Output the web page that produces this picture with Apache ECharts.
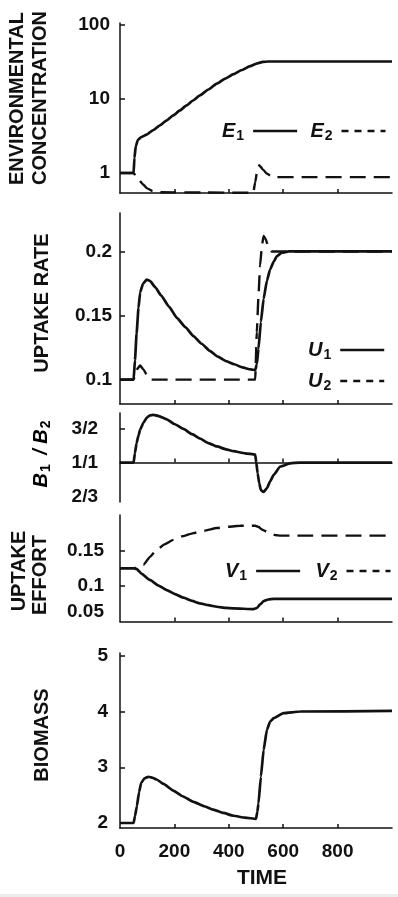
<!DOCTYPE html>
<html>
<head>
<meta charset="utf-8">
<script src="https://cdn.jsdelivr.net/npm/echarts@6/dist/echarts.min.js"></script>
<style>
  html, body { margin: 0; padding: 0; background: #fff; }
  #chart { width: 398px; height: 897px; }
</style>
</head>
<body>
<div id="chart"></div>
<script>
// time axis
const timeTicks = [200, 400, 600, 800]
const timeLabels = [0, 200, 400, 600, 800]

// environmental concentration (log scale)
const envE1 = [[0, 1], [50, 1], [53, 1.6], [58, 2.3], [66, 2.8], [78, 3.05], [98, 3.3], [122, 3.8], [147, 4.4], [170, 5.1], [196, 6.0], [220, 7.0], [245, 8.2], [270, 9.6], [294, 11.2], [325, 13.4], [356, 16.1], [387, 18.8], [417, 21.6], [448, 24.6], [478, 27.7], [505, 30.2], [525, 31.6], [545, 32], [1000, 32]]
const envE2 = [[0, 1], [50, 1], [58, 0.92], [70, 0.8], [85, 0.7], [100, 0.62], [120, 0.57], [150, 0.55], [300, 0.545], [490, 0.54], [497, 0.75], [504, 1.05], [512, 1.27], [525, 1.12], [540, 0.98], [555, 0.92], [575, 0.88], [1000, 0.88]]
const envTicks = [1, 10, 100]

// uptake rate
const uptU1 = [[0, 0.1], [50, 0.1], [55, 0.115], [61, 0.136], [68, 0.156], [74, 0.168], [85, 0.175], [98, 0.178], [110, 0.177], [130, 0.172], [150, 0.166], [180, 0.157], [210, 0.148], [240, 0.141], [270, 0.134], [300, 0.128], [330, 0.1225], [360, 0.118], [390, 0.1145], [420, 0.112], [450, 0.1095], [480, 0.108], [497, 0.1075], [503, 0.112], [509, 0.124], [518, 0.145], [528, 0.163], [540, 0.177], [552, 0.186], [565, 0.192], [577, 0.1964], [595, 0.199], [620, 0.2], [1000, 0.2]]
const uptU2 = [[0, 0.1], [50, 0.1], [62, 0.108], [74, 0.111], [86, 0.108], [98, 0.104], [115, 0.1], [497, 0.1], [503, 0.137], [509, 0.165], [515, 0.189], [522, 0.205], [528, 0.212], [535, 0.21], [545, 0.204], [558, 0.2], [1000, 0.2]]
const uptTicks = [0.1, 0.15, 0.2]

// biomass ratio B1/B2 (log scale)
const ratioB = [[0, 1], [50, 1], [55, 1.12], [61, 1.26], [68, 1.38], [74, 1.476], [86, 1.6], [98, 1.7], [110, 1.75], [123, 1.76], [140, 1.74], [172, 1.67], [200, 1.58], [233, 1.49], [265, 1.4], [294, 1.33], [325, 1.26], [356, 1.21], [390, 1.17], [417, 1.145], [460, 1.115], [497, 1.1], [501, 1.0], [506, 0.88], [512, 0.78], [518, 0.72], [528, 0.705], [540, 0.736], [552, 0.8], [565, 0.863], [589, 0.954], [626, 0.99], [660, 1], [1000, 1]]
const ratioTicks = [2 / 3, 1, 3 / 2]
const ratioNames = ['2/3', '1/1', '3/2']

// uptake effort
const effV1 = [[0, 0.125], [50, 0.125], [61, 0.124], [80, 0.117], [110, 0.1085], [140, 0.101], [172, 0.0943], [200, 0.089], [233, 0.0835], [265, 0.079], [294, 0.0755], [325, 0.073], [356, 0.0708], [390, 0.0692], [417, 0.0684], [491, 0.0675], [503, 0.069], [515, 0.074], [528, 0.0787], [545, 0.081], [565, 0.082], [1000, 0.082]]
const effV2 = [[0, 0.125], [50, 0.125], [70, 0.127], [86, 0.1297], [110, 0.141], [135, 0.151], [165, 0.159], [196, 0.165], [230, 0.17], [270, 0.1745], [310, 0.178], [356, 0.1816], [400, 0.1835], [442, 0.1848], [497, 0.185], [510, 0.183], [520, 0.18], [528, 0.1783], [552, 0.1736], [575, 0.1715], [589, 0.171], [1000, 0.171]]
const effTicks = [0.05, 0.1, 0.15]

// biomass
const biomass = [[0, 2], [50, 2], [55, 2.12], [62, 2.3], [70, 2.55], [78, 2.72], [90, 2.8], [105, 2.83], [120, 2.81], [135, 2.78], [160, 2.7], [196, 2.58], [230, 2.48], [270, 2.38], [310, 2.3], [343, 2.24], [380, 2.18], [417, 2.13], [460, 2.095], [500, 2.075], [505, 2.2], [509, 2.35], [518, 2.83], [528, 3.31], [540, 3.67], [552, 3.82], [565, 3.88], [601, 3.97], [662, 4.0], [1000, 4.01]]
const biomassTicks = [2, 3, 4, 5]

const FONT = '"Liberation Sans", Arial, sans-serif'
const INK = '#111'

const chart = echarts.init(document.getElementById('chart'), null, { renderer: 'canvas' })

const grids = [
  { top: 23, height: 170 },
  { top: 213, height: 191 },
  { top: 413, height: 89 },
  { top: 515, height: 106.5 },
  { top: 653, height: 175 }
].map(g => ({ left: 120, right: 6, top: g.top, height: g.height, outerBoundsMode: 'none' }))

function xAxisFor(i) {
  const last = i === 4
  return {
    type: 'value',
    gridIndex: i,
    min: 0,
    max: 1000,
    interval: 200,
    offset: i === 2 ? -39.5 : 0,
    axisLine: { show: true, onZero: false, lineStyle: { color: INK, width: 1.5 } },
    axisTick: { show: true, inside: true, length: 4, customValues: timeTicks, lineStyle: { color: INK, width: 1.5 } },
    axisLabel: {
      show: last,
      customValues: timeLabels,
      margin: 14,
      color: INK,
      fontFamily: FONT,
      fontWeight: 'bold',
      fontSize: 19
    },
    splitLine: { show: false }
  }
}

function yAxisFor(i, opts) {
  return Object.assign({
    type: 'value',
    gridIndex: i,
    axisLine: { show: true, lineStyle: { color: INK, width: 1.5 } },
    axisTick: { show: true, inside: true, length: 5, customValues: opts.ticks, lineStyle: { color: INK, width: 1.5 } },
    axisLabel: {
      customValues: opts.labels,
      margin: opts.margin,
      color: INK,
      fontFamily: FONT,
      fontWeight: 'bold',
      fontSize: 19,
      formatter: opts.formatter,
      verticalAlignMinLabel: opts.minAlign
    },
    splitLine: { show: false }
  }, opts.axis)
}

const yAxes = [
  yAxisFor(0, { axis: { type: 'log', min: 0.537, max: 106 }, ticks: envTicks, labels: envTicks, margin: 10 }),
  yAxisFor(1, { axis: { min: 0.081, max: 0.23 }, ticks: uptTicks, labels: uptTicks, margin: 8 }),
  yAxisFor(2, {
    axis: { type: 'log', min: 0.626, max: 1.8 },
    ticks: [3 / 2],
    labels: ratioTicks,
    margin: 22,
    formatter: v => v > 1.2 ? ratioNames[2] : (v > 0.9 ? ratioNames[1] : ratioNames[0])
  }),
  yAxisFor(3, { axis: { min: 0.05, max: 0.2 }, ticks: [0.1, 0.15], labels: effTicks, margin: 16, minAlign: 'bottom' }),
  yAxisFor(4, { axis: { min: 1.91, max: 5.05 }, ticks: [3, 4, 5], labels: biomassTicks, margin: 12 })
]

function line(name, data, idx, dashed) {
  return {
    name: name,
    type: 'line',
    xAxisIndex: idx,
    yAxisIndex: idx,
    data: data,
    symbol: 'none',
    smooth: 0.15,
    smoothMonotone: 'x',
    lineStyle: { color: INK, width: dashed ? 2.4 : 2.7, type: dashed ? [16, 8] : 'solid' },
    itemStyle: { color: INK },
    z: 3
  }
}

const subRich = {
  e: { fontSize: 20, fontStyle: 'italic', fontWeight: 'bold', fontFamily: FONT, color: INK, lineHeight: 24 },
  s: { fontSize: 14, fontWeight: 'bold', fontFamily: FONT, color: INK, lineHeight: 7, verticalAlign: 'bottom', padding: [0, 4, 0, 1] }
}

const noSymbol = { color: 'rgba(0,0,0,0)', borderColor: 'rgba(0,0,0,0)', borderWidth: 0 }

function legendFor(names, pos) {
  return Object.assign({
    data: [
      { name: names[0], lineStyle: { type: 'solid', width: 2.5 }, itemStyle: noSymbol },
      { name: names[1], lineStyle: { type: [7, 6], width: 2.5 }, itemStyle: noSymbol }
    ],
    align: 'right',
    itemWidth: 44,
    itemHeight: 14,
    itemStyle: noSymbol,
    selectedMode: false,
    formatter: n => '{e|' + n.charAt(0) + '}{s|' + n.slice(1) + '}',
    textStyle: { rich: subRich }
  }, pos)
}

function vText(text, x, y, align) {
  return {
    type: 'text',
    x: x,
    y: y,
    rotation: Math.PI / 2,
    style: {
      text: text,
      font: 'bold 20px ' + FONT,
      fill: INK,
      align: align || 'center',
      verticalAlign: 'middle',
      textAlign: align || 'center',
      textVerticalAlign: 'middle'
    }
  }
}

chart.setOption({
  animation: false,
  backgroundColor: '#fff',
  grid: grids,
  xAxis: [0, 1, 2, 3, 4].map(xAxisFor),
  yAxis: yAxes,
  legend: [
    legendFor(['E1', 'E2'], { left: 217, top: 116, orient: 'horizontal', itemGap: 12 }),
    legendFor(['U1', 'U2'], { left: 303, top: 335, orient: 'vertical', itemGap: 9 }),
    legendFor(['V1', 'V2'], { left: 220, top: 556, orient: 'horizontal', itemGap: 14 })
  ],
  series: [
    line('E1', envE1, 0, false),
    line('E2', envE2, 0, true),
    line('U1', uptU1, 1, false),
    line('U2', uptU2, 1, true),
    line('B1/B2', ratioB, 2, false),
    line('V1', effV1, 3, false),
    line('V2', effV2, 3, true),
    line('Biomass', biomass, 4, false)
  ],
  graphic: [
    vText('ENVIRONMENTAL', 17.5, 185, 'left'),
    vText('CONCENTRATION', 40.5, 185, 'left'),
    vText('UPTAKE RATE', 42.5, 303),
    {
      type: 'text',
      x: 41,
      y: 452,
      rotation: Math.PI / 2,
      style: {
        text: '{e|B}{s|1}{e| / B}{s|2}',
        align: 'center',
        verticalAlign: 'middle',
        textAlign: 'center',
        textVerticalAlign: 'middle',
        rich: subRich
      }
    },
    vText('UPTAKE', 19.5, 571),
    vText('EFFORT', 40.8, 575),
    vText('BIOMASS', 42.5, 735),
    {
      type: 'text',
      x: 262,
      y: 878,
      style: {
        text: 'TIME',
        font: 'bold 21px ' + FONT,
        fill: INK,
        align: 'center',
        verticalAlign: 'middle',
        textAlign: 'center',
        textVerticalAlign: 'middle'
      }
    },
    { type: 'rect', shape: { x: 0, y: 894, width: 398, height: 3 }, style: { fill: '#ececec' } }
  ]
})
</script>
</body>
</html>
